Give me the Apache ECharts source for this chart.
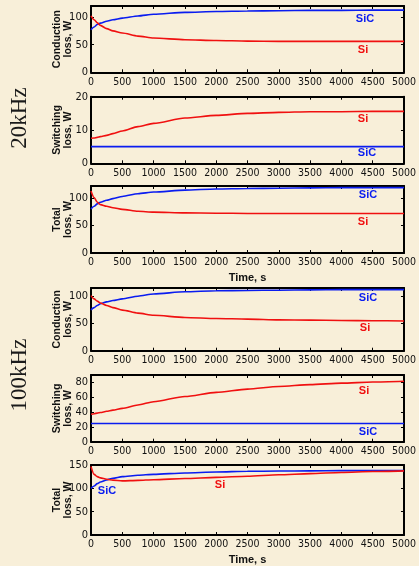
<!DOCTYPE html>
<html><head><meta charset="utf-8">
<script src="https://cdn.jsdelivr.net/npm/echarts@6/dist/echarts.min.js"></script>
<style>html,body{margin:0;padding:0;background:#f8efd9;}#c{width:419px;height:566px;}</style>
</head><body><div id="c"></div>
<script>
const TIME = [0, 50, 100, 150, 250, 350, 500, 750, 1000, 1500, 2000, 2500, 3000, 3500, 4000, 4500, 5000];
const xTicks = { min: 0, max: 5000, interval: 500 };

const cond20_SiC = [77, 82, 86.5, 89, 92.5, 95, 98, 102, 105, 108.5, 110, 111, 111.5, 112, 112, 112.5, 112.5];
const cond20_Si  = [102, 95, 89.5, 85, 79, 75, 71, 65.5, 62, 59, 57.5, 56.5, 56, 56, 56, 56, 56];
const sw20_SiC   = [5, 5, 5, 5, 5, 5, 5, 5, 5, 5, 5, 5, 5, 5, 5, 5, 5];
const sw20_Si    = [7.5, 7.6, 7.8, 8, 8.4, 8.9, 9.7, 11, 12, 13.6, 14.4, 15, 15.3, 15.5, 15.5, 15.6, 15.6];
const tot20_SiC  = [80, 85, 89.5, 92.5, 96, 99, 103, 108, 111, 114.5, 116.5, 117.5, 118, 118.5, 119, 119, 119];
const tot20_Si   = [113, 101, 92.5, 88, 85, 82.5, 79.5, 76, 74.5, 73, 72.5, 72, 72, 72, 72, 72, 72];

const cond100_SiC = [75, 79, 83, 86, 89.5, 92, 95, 100, 104, 108, 110, 110.5, 111, 111.5, 112, 112, 112];
const cond100_Si  = [101, 95, 91, 87.5, 83, 79, 74.5, 69, 65, 61, 59, 58, 56.5, 56, 55.5, 55, 54.5];
const sw100_SiC   = [24.5, 24.5, 24.5, 24.5, 24.5, 24.5, 24.5, 24.5, 24.5, 24.5, 24.5, 24.5, 24.5, 24.5, 24.5, 24.5, 24.5];
const sw100_Si    = [37, 37.8, 38.6, 39.4, 41, 42.6, 45, 49.5, 54, 61, 66.5, 71, 74.5, 77, 79, 80.5, 81.5];
const tot100_SiC  = [100, 105, 110, 113.5, 118, 121.5, 125, 128, 130, 133, 135, 136.5, 137, 137.5, 138, 138, 138];
const tot100_Si   = [147, 130, 125, 122.5, 119.5, 117.5, 116, 117, 118.5, 121, 123.5, 126, 129, 131.5, 134, 136, 137.5];

const panels = [
  { name: 'Conduction\nloss, W', yMax: 120, yInt: 50, top: 6, h: 66.3, SiC: cond20_SiC, Si: cond20_Si, xName: '' },
  { name: 'Switching\nloss, W', yMax: 20, yInt: 10, top: 96.7, h: 66.6, SiC: sw20_SiC, Si: sw20_Si, xName: '' },
  { name: 'Total\nloss, W', yMax: 122, yInt: 50, top: 186, h: 67, SiC: tot20_SiC, Si: tot20_Si, xName: 'Time, s' },
  { name: 'Conduction\nloss, W', yMax: 115, yInt: 50, top: 288, h: 62.7, SiC: cond100_SiC, Si: cond100_Si, xName: '' },
  { name: 'Switching\nloss, W', yMax: 90, yInt: 20, top: 375, h: 66.7, SiC: sw100_SiC, Si: sw100_Si, xName: '' },
  { name: 'Total\nloss, W', yMax: 150, yInt: 50, top: 465, h: 70, SiC: tot100_SiC, Si: tot100_Si, xName: 'Time, s' }
];

const seriesLabels = [
  { text: 'SiC', color: '#0a1cf0', x: 365, y: 19 }, { text: 'Si', color: '#f01010', x: 363, y: 50 },
  { text: 'Si', color: '#f01010', x: 363, y: 119 }, { text: 'SiC', color: '#0a1cf0', x: 367, y: 153 },
  { text: 'SiC', color: '#0a1cf0', x: 368, y: 195 }, { text: 'Si', color: '#f01010', x: 363, y: 222 },
  { text: 'SiC', color: '#0a1cf0', x: 368, y: 298 }, { text: 'Si', color: '#f01010', x: 365, y: 328 },
  { text: 'Si', color: '#f01010', x: 364, y: 391 }, { text: 'SiC', color: '#0a1cf0', x: 368, y: 432 },
  { text: 'SiC', color: '#0a1cf0', x: 107, y: 491 }, { text: 'Si', color: '#f01010', x: 220, y: 485 }
];
const freqLabels = [ { text: '20kHz', x: 20, y: 118 }, { text: '100kHz', x: 20, y: 375 } ];

const narrow = "'Liberation Sans Narrow', 'DejaVu Sans Condensed', 'Liberation Sans', sans-serif";
const sans = "'Liberation Sans', Arial, sans-serif";
const axisLine = { show: true, onZero: false, lineStyle: { color: '#000', width: 2 } };
const tick = { show: true, inside: true, length: 3, lineStyle: { color: '#000', width: 1 } };

const grid = [], xAxis = [], yAxis = [], series = [];
panels.forEach((p, i) => {
  grid.push({ left: 91, width: 316, top: p.top, height: p.h });
  const fmt = (iv) => (v) => (Math.abs(v / iv - Math.round(v / iv)) < 1e-6 ? String(v) : '');
  xAxis.push({ type: 'value', gridIndex: i, position: 'bottom', min: xTicks.min, max: xTicks.max, interval: xTicks.interval,
    axisLine, axisTick: tick, splitLine: { show: false },
    axisLabel: { color: '#111', fontFamily: narrow, fontSize: 10.5, margin: 4, formatter: fmt(xTicks.interval) },
    name: p.xName, nameLocation: 'middle', nameGap: 19, nameMoveOverlap: false,
    nameTextStyle: { color: '#111', fontFamily: sans, fontWeight: 'bold', fontSize: 11 } });
  xAxis.push({ type: 'value', gridIndex: i, position: 'top', min: xTicks.min, max: xTicks.max, interval: xTicks.interval,
    axisLine, axisTick: tick, splitLine: { show: false }, axisLabel: { show: false } });
  yAxis.push({ type: 'value', gridIndex: i, position: 'left', min: 0, max: p.yMax, interval: p.yInt,
    axisLine, axisTick: tick, splitLine: { show: false },
    axisLabel: { color: '#111', fontFamily: narrow, fontSize: 11, margin: 3, formatter: fmt(p.yInt) },
    name: p.name, nameLocation: 'middle', nameGap: 17, nameRotate: 90, nameMoveOverlap: false,
    nameTextStyle: { color: '#111', fontFamily: sans, fontWeight: 'bold', fontSize: 10.5, lineHeight: 11 } });
  yAxis.push({ type: 'value', gridIndex: i, position: 'right', min: 0, max: p.yMax, interval: p.yInt,
    axisLine, axisTick: tick, splitLine: { show: false }, axisLabel: { show: false } });
  [['SiC', '#0a1cf0'], ['Si', '#f01010']].forEach(([k, c]) => {
    series.push({ type: 'line', name: k, xAxisIndex: 2 * i, yAxisIndex: 2 * i, showSymbol: false, symbol: 'none',
      smooth: 0.25, smoothMonotone: 'x', lineStyle: { color: c, width: 1.6 },
      data: TIME.map((t, j) => [t, p[k][j]]) });
  });
});

const graphic = [];
seriesLabels.forEach(l => graphic.push({ type: 'text', x: l.x, y: l.y,
  style: { text: l.text, fill: l.color, font: "bold 11px 'Liberation Sans', Arial, sans-serif", textAlign: 'center', textVerticalAlign: 'middle' } }));
freqLabels.forEach(l => graphic.push({ type: 'text', x: l.x, y: l.y, rotation: Math.PI / 2,
  style: { text: l.text, fill: '#1a1a1a', font: "23px 'Liberation Serif', 'Times New Roman', serif", textAlign: 'center', textVerticalAlign: 'middle' } }));

const chart = echarts.init(document.getElementById('c'), null, { renderer: 'canvas' });
chart.setOption({ backgroundColor: '#f8efd9', animation: false, grid, xAxis, yAxis, series, graphic });
</script></body></html>
